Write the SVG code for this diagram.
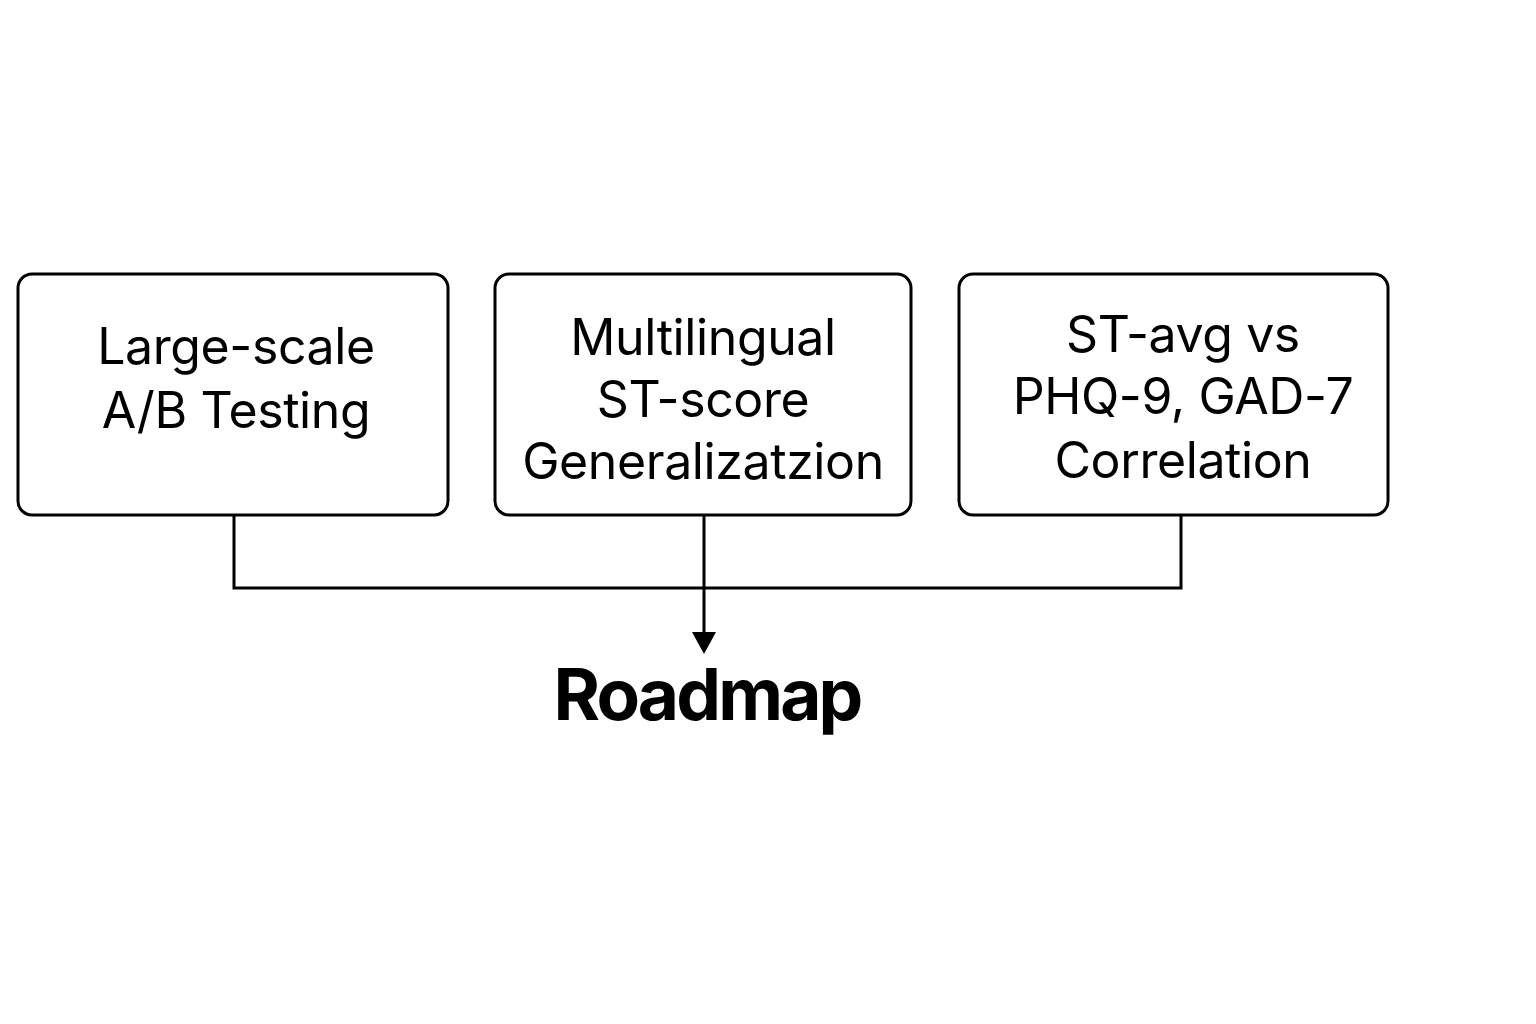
<svg xmlns="http://www.w3.org/2000/svg" width="1536" height="1024" viewBox="0 0 1536 1024">
<style>
.box{fill:#fff;stroke:#000;stroke-width:3}
.t{font-family:Inter,"Liberation Sans",sans-serif;font-size:50px;letter-spacing:-0.4px;fill:#000;text-anchor:middle}
.title{font-family:Inter,"Liberation Sans",sans-serif;font-size:71px;font-weight:700;letter-spacing:-2.8px;fill:#000;text-anchor:middle}
.c{fill:none;stroke:#000;stroke-width:3}
</style>
<rect width="1536" height="1024" fill="#fff"/>
<g id="connectors">
<polyline class="c" points="234,515 234,588 1181,588 1181,515"/>
<line class="c" x1="704" y1="515" x2="704" y2="634"/>
<path d="M692,632 L716,632 L704,654 Z" fill="#000"/>
</g>
<g id="node-ab">
<rect class="box" x="18" y="274" width="430" height="241" rx="14"/>
<text class="t" x="236" y="364">Large-scale</text>
<text class="t" x="236" y="428">A/B Testing</text>
</g>
<g id="node-multilingual">
<rect class="box" x="495" y="274" width="416" height="241" rx="14"/>
<text class="t" x="703" y="355">Multilingual</text>
<text class="t" x="703" y="417">ST-score</text>
<text class="t" x="703" y="479">Generalizatzion</text>
</g>
<g id="node-correlation">
<rect class="box" x="959" y="274" width="429" height="241" rx="14"/>
<text class="t" x="1183" y="352">ST-avg vs</text>
<text class="t" x="1183" y="414">PHQ-9, GAD-7</text>
<text class="t" x="1183" y="478">Correlation</text>
</g>
<g id="node-roadmap">
<text class="title" x="707" y="720">Roadmap</text>
</g>
</svg>
